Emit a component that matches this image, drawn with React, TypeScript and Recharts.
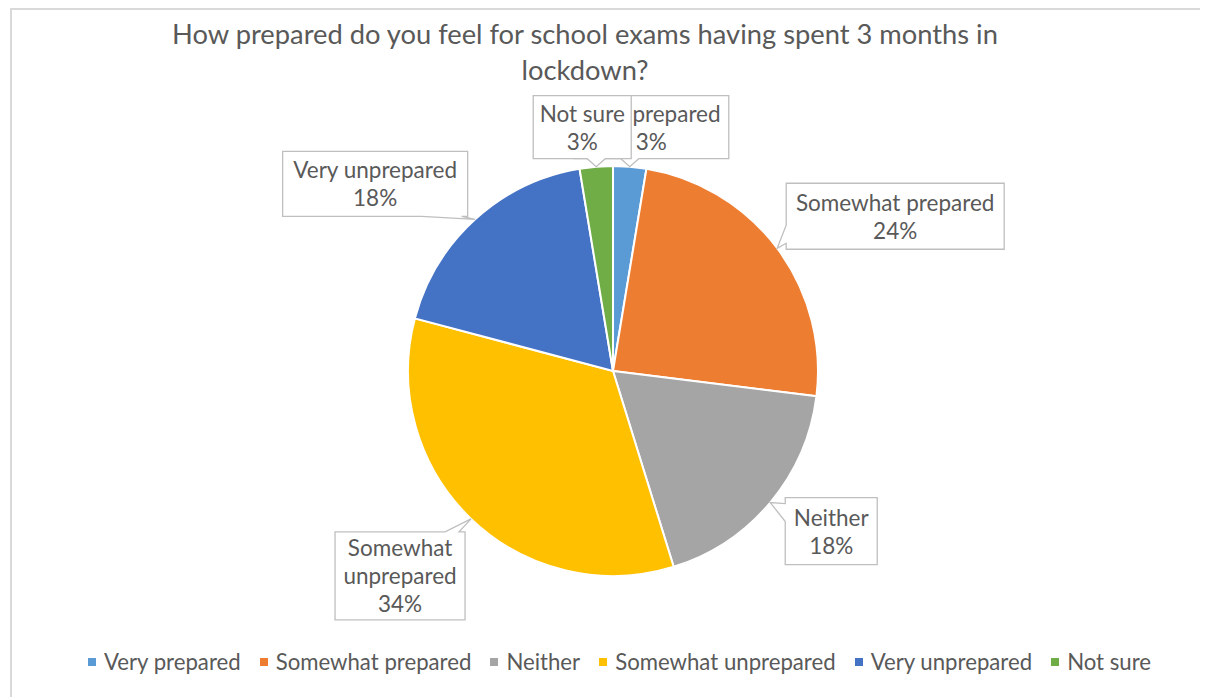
import { PieChart, Pie, Cell, Legend } from "recharts";

const CATEGORIES = [
  "Very prepared",
  "Somewhat prepared",
  "Neither",
  "Somewhat unprepared",
  "Very unprepared",
  "Not sure",
];
const RESPONSES = [3, 28, 21, 39, 21, 3];
const COLORS = ["#5b9bd5", "#ed7d31", "#a5a5a5", "#ffc000", "#4472c4", "#70ad47"];

const TEXT = "#595959";
const FONT = "Lato, 'Open Sans', sans-serif";

// where each callout box sits, relative to the edge point of its slice
const CALLOUTS = [
  { dx: 21.5, dy: -39.5, w: 155, h: 63, side: "bottom", base: 18, wrap: false },
  { dx: 118, dy: -32, w: 218, h: 66, side: "left", base: 18, wrap: false },
  { dx: 61, dy: 28.5, w: 92, h: 67, side: "left", base: 18, wrap: false },
  { dx: -71, dy: 57, w: 130, h: 88, side: "top", base: 14, wrap: true },
  { dx: -100, dy: -35.5, w: 185, h: 65, side: "bottom", base: 40, wrap: false },
  { dx: -14, dy: -39.5, w: 98, h: 63, side: "bottom", base: 18, wrap: false },
];

const data = CATEGORIES.map((name, i) => ({ name, value: RESPONSES[i] }));

const clamp = (v: number, lo: number, hi: number) => Math.max(lo, Math.min(hi, v));

function calloutPath(
  x0: number, y0: number, x1: number, y1: number,
  tx: number, ty: number, side: string, bw: number
) {
  if (side === "bottom") {
    const bx = clamp(tx - bw / 2, x0 + 6, x1 - 6 - bw);
    return `M${x0},${y0}H${x1}V${y1}H${bx + bw}L${tx},${ty}L${bx},${y1}H${x0}Z`;
  }
  if (side === "top") {
    const bx = clamp(tx - bw / 2, x0 + 6, x1 - 6 - bw);
    return `M${x0},${y0}H${bx}L${tx},${ty}L${bx + bw},${y0}H${x1}V${y1}H${x0}Z`;
  }
  if (side === "left") {
    const by = clamp(ty - bw / 2, y0 + 6, y1 - 6 - bw);
    return `M${x0},${y0}H${x1}V${y1}H${x0}V${by + bw}L${tx},${ty}L${x0},${by}Z`;
  }
  const by = clamp(ty - bw / 2, y0 + 6, y1 - 6 - bw);
  return `M${x0},${y0}H${x1}V${by}L${tx},${ty}L${x1},${by + bw}V${y1}H${x0}Z`;
}

const renderCallout = (props: any) => {
  const { cx, cy, midAngle, outerRadius, index, name, percent } = props;
  const RAD = Math.PI / 180;
  const tx = cx + outerRadius * Math.cos(-midAngle * RAD);
  const ty = cy + outerRadius * Math.sin(-midAngle * RAD);
  const c = CALLOUTS[index];
  const x0 = tx + c.dx - c.w / 2;
  const x1 = x0 + c.w;
  const y0 = ty + c.dy - c.h / 2;
  const y1 = y0 + c.h;
  const lines: string[] = c.wrap ? String(name).split(" ") : [String(name)];
  lines.push(`${Math.round(percent * 100)}%`);
  const lh = 28;
  const first = (y0 + y1) / 2 - ((lines.length - 1) * lh) / 2;
  return (
    <g key={`callout-${index}`}>
      <path
        d={calloutPath(x0, y0, x1, y1, tx, ty, c.side, c.base)}
        fill="#ffffff"
        stroke="#bfbfbf"
        strokeWidth={1.3}
      />
      <text textAnchor="middle" fill={TEXT} fontSize={22.5} fontFamily={FONT}>
        {lines.map((l, i) => (
          <tspan key={i} x={(x0 + x1) / 2} y={first + i * lh} dominantBaseline="central">
            {l}
          </tspan>
        ))}
      </text>
    </g>
  );
};

const renderLegend = (props: any) => {
  const payload = [...(props.payload || [])].sort(
    (a: any, b: any) => CATEGORIES.indexOf(a.value) - CATEGORIES.indexOf(b.value)
  );
  return (
    <div
      style={{
        display: "flex",
        justifyContent: "center",
        fontFamily: FONT,
        fontSize: 22.2,
        color: TEXT,
      }}
    >
      {payload.map((entry: any, i: number) => (
        <div key={i} style={{ display: "flex", alignItems: "center", marginRight: 19 }}>
          <div style={{ width: 8, height: 8, backgroundColor: entry.color, marginRight: 8 }} />
          <span>{entry.value}</span>
        </div>
      ))}
    </div>
  );
};

export default function App() {
  return (
    <div
      style={{
        position: "relative",
        marginLeft: 2,
        width: 1196,
        height: 689,
        borderLeft: "2px solid #d9d9d9",
        borderTop: "2px solid #d9d9d9",
        background: "#ffffff",
      }}
    >
      <div
        style={{
          position: "absolute",
          left: 0,
          top: 6,
          width: 1146,
          textAlign: "center",
          fontFamily: FONT,
          fontSize: 27.3,
          lineHeight: "36px",
          color: TEXT,
        }}
      >
        How prepared do you feel for school exams having spent 3 months in
        <br />
        lockdown?
      </div>
      <PieChart width={1196} height={689}>
        <Pie
          data={data}
          dataKey="value"
          nameKey="name"
          cx={596}
          cy={356}
          outerRadius={205}
          startAngle={90}
          endAngle={-270}
          stroke="#ffffff"
          strokeWidth={2}
          label={renderCallout}
          labelLine={false}
          isAnimationActive={false}
        >
          {data.map((d, i) => (
            <Cell key={`cell-${i}`} fill={COLORS[i]} />
          ))}
        </Pie>
        <Legend
          content={renderLegend}
          wrapperStyle={{ position: "absolute", top: 638, left: 44, width: 1146 }}
        />
      </PieChart>
    </div>
  );
}
